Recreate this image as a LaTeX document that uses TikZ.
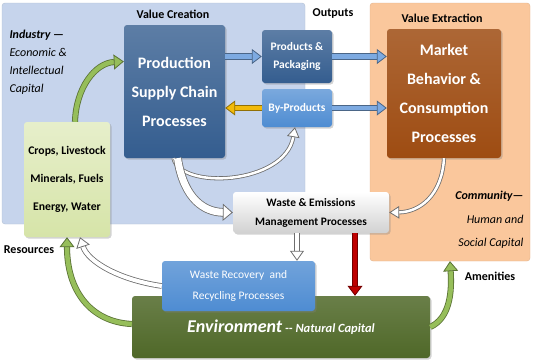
\documentclass[tikz,border=0pt]{standalone}
\usepackage{fontspec}
\setmainfont{Carlito}
\usetikzlibrary{arrows.meta,shadows}

\definecolor{indbg}{RGB}{198,212,236}
\definecolor{combg}{RGB}{250,199,156}
\definecolor{proddark}{RGB}{52,93,143}
\definecolor{bymid}{RGB}{78,140,210}
\definecolor{mktbrown}{RGB}{158,76,18}
\definecolor{cropgreen}{RGB}{214,228,168}
\definecolor{envgreen}{RGB}{79,104,40}
\definecolor{arrblue}{RGB}{125,170,225}
\definecolor{arrgreen}{RGB}{150,190,90}
\definecolor{arrgray}{RGB}{110,110,110}
\definecolor{arrgold}{RGB}{242,186,10}

\begin{document}
\begin{tikzpicture}[x=1pt,y=-1pt,
  box/.style={rectangle, rounded corners=3pt, align=center, inner sep=2pt},
  shade/.style={drop shadow={opacity=0.35,shadow xshift=1.5pt,shadow yshift=-1.5pt}},
  big/.style={font=\bfseries\fontsize{16}{29}\selectfont, text=white},
  mid/.style={font=\bfseries\fontsize{11.5}{18}\selectfont},
  lbl/.style={font=\bfseries\fontsize{12}{14}\selectfont},
  flat/.style={line width=6pt, draw=#1, -{Triangle[width=15pt,length=10pt]}},
  outl/.style={draw=#1!60!black, double=#1, double distance=4.5pt, line width=0.8pt,
    -{Triangle[width=15pt,length=10pt,fill=#1,color=#1!60!black]}},
  hollow/.style={draw=arrgray, double=white, double distance=#1, line width=0.8pt,
    -{Triangle[width=#1+10pt,length=10pt,fill=white,color=arrgray]}}]
  \useasboundingbox (0,0) rectangle (533,362);

  % panels
  \node[box, draw=indbg!90!black, fill=indbg, minimum width=303pt, minimum height=221pt] (ind) at (153.5,113.5) {};
  \node[box, draw=combg!90!black, fill=combg, minimum width=160pt, minimum height=258pt] (com) at (450,132) {};

  \node[lbl] (vcre) at (173,14) {Value Creation};
  \node[lbl] (outp) at (333,14) {Outputs};
  \node[lbl] (vext) at (442,18) {Value Extraction};
  \node[align=left, anchor=west, font=\itshape\fontsize{12}{18}\selectfont] (indtxt) at (6,62)
    {\textbf{Industry ---}\\Economic \&\\Intellectual\\Capital};
  \node[align=right, anchor=east, font=\itshape\fontsize{12}{23.5}\selectfont] (comtxt) at (527,220)
    {\textbf{Community---}\\Human and\\Social Capital};
  \node[lbl] (res) at (29,250) {Resources};
  \node[lbl] (amen) at (490,276) {Amenities};

  % process boxes
  \node[box, shade, big, top color=proddark!80!white, bottom color=proddark, minimum width=101pt, minimum height=133pt] (prod) at (174.5,91.5)
    {Production\\Supply Chain\\Processes};
  \node[box, shade, mid, text=white, top color=proddark!80!white, bottom color=proddark, minimum width=70pt, minimum height=53pt] (pp) at (297,56.5)
    {Products \&\\Packaging};
  \node[box, shade, mid, text=white, top color=bymid!75!white, bottom color=bymid, minimum width=70pt, minimum height=38pt] (byp) at (297,108)
    {By-Products};
  \node[box, shade, big, top color=mktbrown!85!white, bottom color=mktbrown, minimum width=114pt, minimum height=129pt] (mkt) at (444,93.5)
    {Market\\Behavior \&\\Consumption\\Processes};
  \node[box, shade, font=\bfseries\fontsize{11.7}{28}\selectfont, top color=cropgreen!60!white, bottom color=cropgreen, minimum width=86pt, minimum height=115pt] (crops) at (67,179.5)
    {Crops, Livestock\\Minerals, Fuels\\Energy, Water};
  \node[box, shade, mid, font=\bfseries\fontsize{11.4}{19}\selectfont, top color=white, bottom color=black!18, minimum width=156pt, minimum height=41pt] (wem) at (311,212.5)
    {Waste \& Emissions\\Management Processes};
  \node[box, shade, font=\bfseries\itshape\fontsize{12.5}{14}\selectfont, text=white, top color=envgreen!85!white, bottom color=envgreen, minimum width=298pt, minimum height=62pt] (env) at (281,327)
    {{\fontsize{18}{20}\selectfont Environment} -{}- Natural Capital};
  \node[box, shade, font=\fontsize{11.5}{21}\selectfont, text=white, top color=bymid!80!white, bottom color=bymid, minimum width=153pt, minimum height=50pt] (wrr) at (238.5,286)
    {Waste Recovery\ \ and\\Recycling Processes};

  % connectors
  \draw[outl=arrblue] (prod.east |- pp.west) -- (pp.west);
  \draw[outl=arrblue] (pp.east) -- (mkt.west |- pp.east);
  \draw[outl=arrblue] (byp.east) -- (mkt.west |- byp.east);
  \draw[outl=arrgold] (byp.west) -- (prod.east |- byp.west);
  \draw[outl=arrgreen] ([xshift=8pt]crops.north) .. controls (76,88) and (95,63) .. ([yshift=30pt]prod.west);
  \draw[hollow=2.5pt] ([xshift=-1pt]prod.south) .. controls (180,190) and (285,185) .. ([xshift=-2pt]byp.south);
  \draw[hollow=7pt] ([xshift=3pt]prod.south) .. controls (184,200) and (205,212) .. (wem.west);
  \draw[hollow=2.5pt] (mkt.south) .. controls (442,195) and (420,212) .. (wem.east);
  \draw[hollow=4pt] ([xshift=-14pt]wem.south) -- ([xshift=-14pt]wem.south |- wrr.north);
  \draw[outl={red!75!black}] ([xshift=44pt]wem.south) -- ([xshift=44pt]wem.south |- env.north);
  \draw[hollow=4pt] (wrr.west) .. controls (120,280) and (88,262) .. ([xshift=13pt]crops.south);
  \draw[outl=arrgreen] ([yshift=3pt]env.west) .. controls (90,322) and (67,290) .. (crops.south);
  \draw[outl=arrgreen] (env.east) .. controls (450,318) and (452,292) .. (com.south);
\end{tikzpicture}
\end{document}
